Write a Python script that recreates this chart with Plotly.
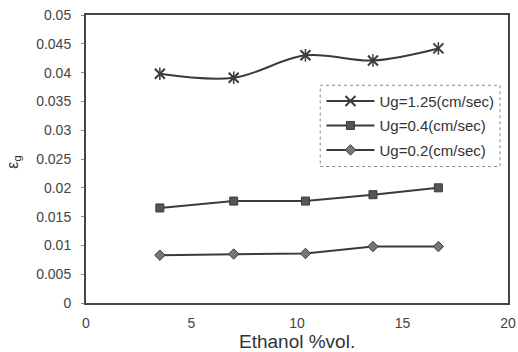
import plotly.graph_objects as go

ethanol = [3.5, 7.0, 10.4, 13.6, 16.7]
ug125 = [0.0398, 0.0391, 0.0430, 0.0421, 0.0442]
ug04 = [0.0165, 0.0177, 0.0177, 0.0188, 0.0200]
ug02 = [0.0083, 0.0085, 0.0086, 0.0098, 0.0098]

x_ticks = [0, 5, 10, 15, 20]
y_ticks = [0, 0.005, 0.01, 0.015, 0.02, 0.025, 0.03, 0.035, 0.04, 0.045, 0.05]
y_labels = ["0", "0.005", "0.01", "0.015", "0.02", "0.025", "0.03", "0.035", "0.04", "0.045", "0.05"]

col = "#3a3a3a"
fig = go.Figure()
fig.add_trace(go.Scatter(x=ethanol, y=ug125, mode="lines+markers", name="Ug=1.25(cm/sec)",
                         legendgroup="a",
                         line=dict(color=col, width=2, shape="spline"),
                         marker=dict(symbol="x-thin-open", size=10, color=col, line=dict(color=col, width=2))))
fig.add_trace(go.Scatter(x=ethanol, y=ug125, mode="markers", showlegend=False, hoverinfo="skip",
                         marker=dict(symbol="line-ns-open", size=9, color=col, line=dict(color=col, width=1.5))))
fig.add_trace(go.Scatter(x=ethanol, y=ug04, mode="lines+markers", name="Ug=0.4(cm/sec)",
                         legendgroup="b",
                         line=dict(color=col, width=2),
                         marker=dict(symbol="square", size=8, color="#555", line=dict(color=col, width=1))))
fig.add_trace(go.Scatter(x=ethanol, y=ug02, mode="lines+markers", name="Ug=0.2(cm/sec)",
                         legendgroup="c",
                         line=dict(color=col, width=2),
                         marker=dict(symbol="diamond", size=8, color="#777", line=dict(color=col, width=1))))

fig.add_shape(type="rect", xref="paper", yref="paper", x0=0.555, x1=0.981, y0=0.474, y1=0.756,
              line=dict(color="#888", width=1, dash="dot"), fillcolor="rgba(0,0,0,0)", layer="above")

fig.add_annotation(text="ε<sub>g</sub>", xref="paper", yref="paper", x=-0.171, y=0.49,
                   xanchor="center", yanchor="middle",
                   textangle=-90, showarrow=False, font=dict(size=16, color="#333"))
fig.add_annotation(text="Ethanol %vol.", xref="paper", yref="paper", x=0.5, y=-0.132,
                   xanchor="center", yanchor="middle",
                   showarrow=False, font=dict(size=19, color="#333"))

fig.update_layout(
    width=518, height=352,
    margin=dict(l=86, r=10, t=15, b=49, autoexpand=False),
    paper_bgcolor="white", plot_bgcolor="white",
    font=dict(family="Liberation Sans, Arial", size=13, color="#333"),
    showlegend=True,
    legend=dict(x=0.558, y=0.758, xanchor="left", yanchor="top",
                bgcolor="rgba(0,0,0,0)", borderwidth=0,
                font=dict(size=15, color="#333"), tracegroupgap=2, itemwidth=48),
    xaxis=dict(range=[0, 20], tickvals=x_ticks, ticktext=[str(v) for v in x_ticks],
               automargin=False,
               showgrid=False, zeroline=False, showline=True, linecolor="#444", linewidth=2,
               mirror=True, ticks="", ticklabelstandoff=6, tickfont=dict(size=14, color="#444")),
    yaxis=dict(range=[0, 0.05], tickvals=y_ticks, ticktext=y_labels,
               automargin=False,
               showgrid=False, zeroline=False, showline=True, linecolor="#444", linewidth=2,
               mirror=True, ticks="outside", ticklen=3, tickcolor="#888",
               ticklabelstandoff=7, tickfont=dict(size=14, color="#444")),
)
fig.write_html("out.html")
